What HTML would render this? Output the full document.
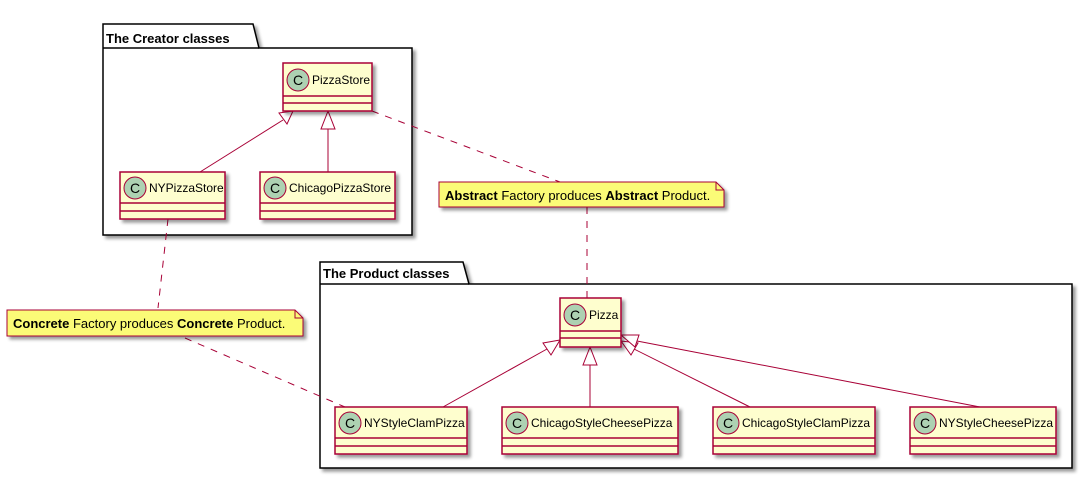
<!DOCTYPE html>
<html><head><meta charset="utf-8"><style>
html,body{margin:0;padding:0;background:#fff;}
svg{display:block;font-family:"Liberation Sans",sans-serif;}
</style></head><body>
<svg width="1083" height="481" viewBox="0 0 1083 481" xmlns="http://www.w3.org/2000/svg">
<defs>
<filter id="sh" x="-10%" y="-10%" width="130%" height="140%"><feGaussianBlur in="SourceAlpha" stdDeviation="1.5"/><feOffset dx="3" dy="3"/><feComponentTransfer><feFuncA type="linear" slope="0.4"/></feComponentTransfer><feMerge><feMergeNode/><feMergeNode in="SourceGraphic"/></feMerge></filter>
</defs>
<!-- packages -->
<g filter="url(#sh)" fill="#fff" stroke="#000" stroke-width="1.5">
<path d="M103,48 L103,24 L253,24 L259,48 L412,48 L412,235 L103,235 Z"/>
<line x1="103" y1="48" x2="259" y2="48"/>
<path d="M320,284 L320,262 L463,262 L469,284 L1072,284 L1072,468 L320,468 Z"/>
<line x1="320" y1="284" x2="469" y2="284"/>
</g>
<text x="106" y="43" font-size="13" font-weight="bold">The Creator classes</text>
<text x="323" y="278" font-size="13" font-weight="bold">The Product classes</text>

<!-- dashed connectors -->
<g stroke="#A80036" stroke-width="1" stroke-dasharray="7,7" fill="none">
<line x1="372" y1="111" x2="560" y2="182"/>
<line x1="587" y1="207" x2="587" y2="298"/>
<line x1="168" y1="219" x2="158" y2="308"/>
<line x1="185" y1="338" x2="345" y2="407"/>
</g>
<!-- inheritance lines -->
<g stroke="#A80036" stroke-width="1" fill="none">
<line x1="200" y1="172" x2="283" y2="120"/>
<line x1="328" y1="172" x2="328" y2="129"/>
<line x1="443" y1="407" x2="547" y2="349"/>
<line x1="590" y1="407" x2="590" y2="365"/>
<line x1="750" y1="407" x2="634" y2="349"/>
<line x1="980" y1="407" x2="637" y2="341"/>
</g>
<g stroke="#A80036" stroke-width="1" fill="#fff">
<polygon points="293,111 279,113 287,124"/>
<polygon points="328,111 321,129 335,129"/>
<polygon points="560,340 543,343 551,355"/>
<polygon points="590,347 583,365 597,365"/>
<polygon points="621,341 631,355 638,343"/>
<polygon points="621,335 635,347 639,335"/>
</g>

<!-- classes -->
<g font-size="12">
<g filter="url(#sh)"><rect x="283" y="63" width="89" height="48" fill="#FEFECE" stroke="#A80036" stroke-width="1.5"/></g>
<line x1="283" y1="96" x2="372" y2="96" stroke="#A80036" stroke-width="1.5"/><line x1="283" y1="103" x2="372" y2="103" stroke="#A80036" stroke-width="1.5"/>
<circle cx="298" cy="80" r="11" fill="#ADD1B2" stroke="#A80036"/><text x="298" y="85" font-size="14" text-anchor="middle">C</text>
<text x="312" y="84">PizzaStore</text>

<g filter="url(#sh)"><rect x="120" y="172" width="105" height="47" fill="#FEFECE" stroke="#A80036" stroke-width="1.5"/></g>
<line x1="120" y1="203" x2="225" y2="203" stroke="#A80036" stroke-width="1.5"/><line x1="120" y1="211" x2="225" y2="211" stroke="#A80036" stroke-width="1.5"/>
<circle cx="135" cy="188" r="11" fill="#ADD1B2" stroke="#A80036"/><text x="135" y="193" font-size="14" text-anchor="middle">C</text>
<text x="149" y="192">NYPizzaStore</text>

<g filter="url(#sh)"><rect x="260" y="172" width="135" height="47" fill="#FEFECE" stroke="#A80036" stroke-width="1.5"/></g>
<line x1="260" y1="203" x2="395" y2="203" stroke="#A80036" stroke-width="1.5"/><line x1="260" y1="211" x2="395" y2="211" stroke="#A80036" stroke-width="1.5"/>
<circle cx="275" cy="188" r="11" fill="#ADD1B2" stroke="#A80036"/><text x="275" y="193" font-size="14" text-anchor="middle">C</text>
<text x="289" y="192">ChicagoPizzaStore</text>

<g filter="url(#sh)"><rect x="560" y="298" width="61" height="49" fill="#FEFECE" stroke="#A80036" stroke-width="1.5"/></g>
<line x1="560" y1="331" x2="621" y2="331" stroke="#A80036" stroke-width="1.5"/><line x1="560" y1="338" x2="621" y2="338" stroke="#A80036" stroke-width="1.5"/>
<circle cx="575" cy="315" r="11" fill="#ADD1B2" stroke="#A80036"/><text x="575" y="320" font-size="14" text-anchor="middle">C</text>
<text x="589" y="319">Pizza</text>

<g filter="url(#sh)"><rect x="335" y="407" width="132" height="47" fill="#FEFECE" stroke="#A80036" stroke-width="1.5"/></g>
<line x1="335" y1="438" x2="467" y2="438" stroke="#A80036" stroke-width="1.5"/><line x1="335" y1="446" x2="467" y2="446" stroke="#A80036" stroke-width="1.5"/>
<circle cx="350" cy="423" r="11" fill="#ADD1B2" stroke="#A80036"/><text x="350" y="428" font-size="14" text-anchor="middle">C</text>
<text x="364" y="427">NYStyleClamPizza</text>

<g filter="url(#sh)"><rect x="502" y="407" width="176" height="47" fill="#FEFECE" stroke="#A80036" stroke-width="1.5"/></g>
<line x1="502" y1="438" x2="678" y2="438" stroke="#A80036" stroke-width="1.5"/><line x1="502" y1="446" x2="678" y2="446" stroke="#A80036" stroke-width="1.5"/>
<circle cx="517" cy="423" r="11" fill="#ADD1B2" stroke="#A80036"/><text x="517" y="428" font-size="14" text-anchor="middle">C</text>
<text x="531" y="427">ChicagoStyleCheesePizza</text>

<g filter="url(#sh)"><rect x="713" y="407" width="162" height="47" fill="#FEFECE" stroke="#A80036" stroke-width="1.5"/></g>
<line x1="713" y1="438" x2="875" y2="438" stroke="#A80036" stroke-width="1.5"/><line x1="713" y1="446" x2="875" y2="446" stroke="#A80036" stroke-width="1.5"/>
<circle cx="728" cy="423" r="11" fill="#ADD1B2" stroke="#A80036"/><text x="728" y="428" font-size="14" text-anchor="middle">C</text>
<text x="742" y="427">ChicagoStyleClamPizza</text>

<g filter="url(#sh)"><rect x="910" y="407" width="146" height="47" fill="#FEFECE" stroke="#A80036" stroke-width="1.5"/></g>
<line x1="910" y1="438" x2="1056" y2="438" stroke="#A80036" stroke-width="1.5"/><line x1="910" y1="446" x2="1056" y2="446" stroke="#A80036" stroke-width="1.5"/>
<circle cx="925" cy="423" r="11" fill="#ADD1B2" stroke="#A80036"/><text x="925" y="428" font-size="14" text-anchor="middle">C</text>
<text x="939" y="427">NYStyleCheesePizza</text>
</g>

<!-- notes -->
<g filter="url(#sh)" fill="#FBFB77" stroke="#A80036" stroke-width="1">
<path d="M439,182 L716,182 L724,190 L724,207 L439,207 Z"/>
<path d="M7,310 L295,310 L303,318 L303,336 L7,336 Z"/>
</g>
<g fill="none" stroke="#A80036" stroke-width="1">
<path d="M716,182 L716,190 L724,190"/>
<path d="M295,310 L295,318 L303,318"/>
</g>
<text x="445" y="200" font-size="13"><tspan font-weight="bold">Abstract</tspan> Factory produces <tspan font-weight="bold">Abstract</tspan> Product.</text>
<text x="13" y="328" font-size="13"><tspan font-weight="bold">Concrete</tspan> Factory produces <tspan font-weight="bold">Concrete</tspan> Product.</text>
</svg>
</body></html>
